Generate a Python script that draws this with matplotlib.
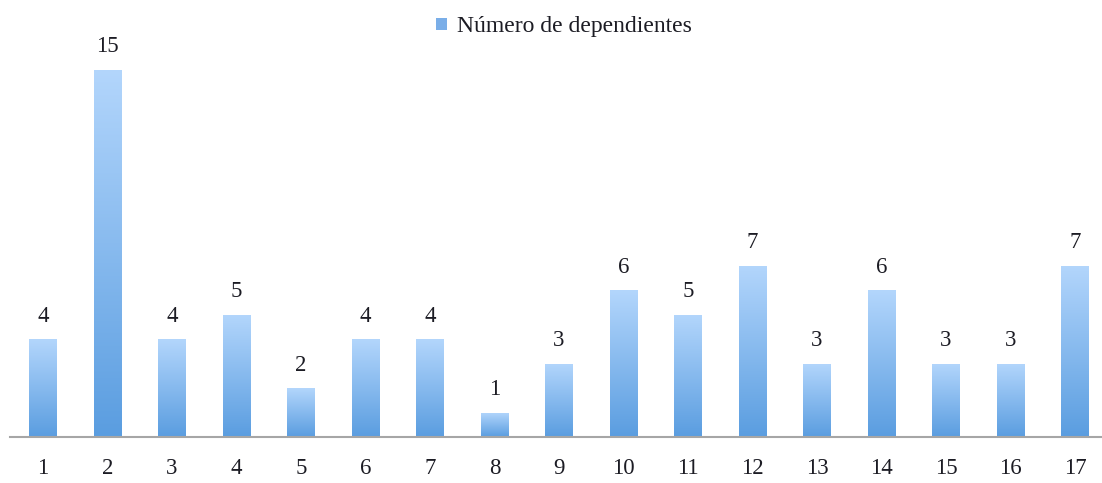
import numpy as np
import matplotlib.pyplot as plt
from matplotlib.patches import Patch
from matplotlib.colors import LinearSegmentedColormap

plt.rcParams['font.family'] = ['Liberation Serif', 'DejaVu Serif']

categorias = [str(i) for i in range(1, 18)]
dependientes = [4, 15, 4, 5, 2, 4, 4, 1, 3, 6, 5, 7, 3, 6, 3, 3, 7]
serie = 'Número de dependientes'

top_color = '#b3d6fc'
bottom_color = '#5a9de0'
text_color = '#1c1c24'

fig = plt.figure(figsize=(11.02, 4.83), dpi=100)
ax = fig.add_axes([10 / 1102, 46 / 483, 1092 / 1102, 392 / 483])

x = np.arange(1, len(dependientes) + 1)
bars = ax.bar(x, dependientes, width=0.42, color='none', edgecolor='none', zorder=2)

# vertical gradient inside each bar
cmap = LinearSegmentedColormap.from_list('grad', [bottom_color, top_color])
grad = np.linspace(0, 1, 256).reshape(-1, 1)
for b in bars:
    x0, y0 = b.get_x(), b.get_y()
    w, h = b.get_width(), b.get_height()
    im = ax.imshow(grad, cmap=cmap, origin='lower', aspect='auto',
                   extent=[x0, x0 + w, y0, y0 + h], zorder=2)
    im.set_clip_path(b)
    ax.text(x0 + w / 2, h + 0.5, str(int(h)), ha='center', va='bottom',
            fontsize=16.5, color=text_color)

ax.set_xlim(0.488, 17.42)
ax.set_ylim(0, 16)
ax.set_xticks(x)
ax.set_xticklabels(categorias, fontsize=16.5, color=text_color)
ax.set_yticks([])
ax.tick_params(axis='x', length=0, pad=15)
for s in ['top', 'right', 'left']:
    ax.spines[s].set_visible(False)
ax.spines['bottom'].set_color('#a6a6a6')
ax.spines['bottom'].set_linewidth(1.5)

handle = Patch(facecolor='#7aaee8', edgecolor='none')
fig.legend([handle], [serie], loc='upper center', bbox_to_anchor=(0.512, 1.01),
           frameon=False, fontsize=17, handlelength=0.45, handleheight=0.45,
           handletextpad=0.45, labelcolor=text_color)

fig.savefig('out.png', dpi=100)
